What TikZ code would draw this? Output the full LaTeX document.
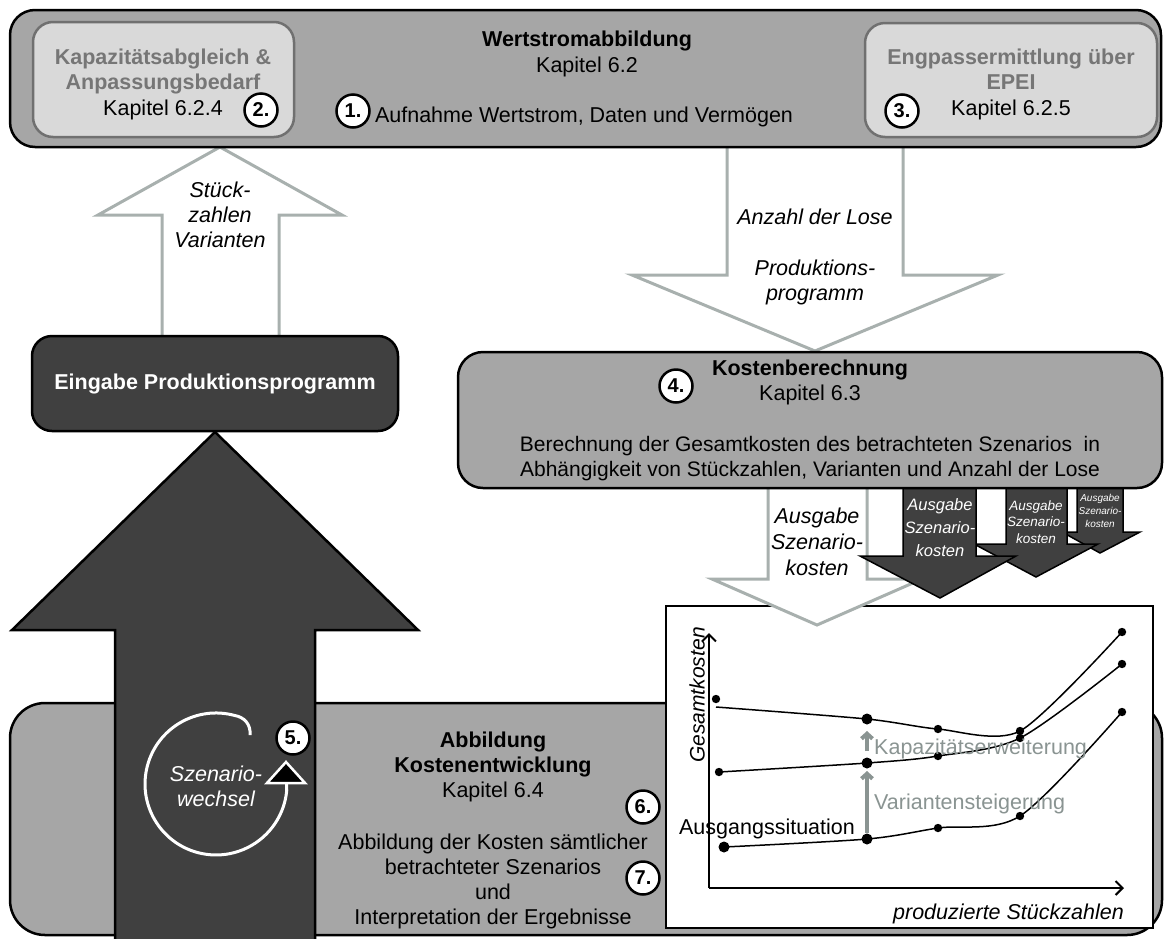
\documentclass[tikz,border=0pt]{standalone}
\usepackage{fontspec}
\setmainfont{Liberation Sans}
\usetikzlibrary{arrows.meta}
\definecolor{boxgray}{RGB}{166,166,166}
\definecolor{lightbox}{RGB}{217,217,217}
\definecolor{innerborder}{RGB}{112,112,112}
\definecolor{graytext}{RGB}{118,118,118}
\definecolor{darkfill}{RGB}{64,64,64}
\definecolor{hollowline}{RGB}{168,176,174}
\definecolor{chartgray}{RGB}{138,148,146}
\tikzset{
  txt/.style={font=\fontsize{21.5}{25.5}\selectfont, align=center, inner sep=0pt},
  bigbox/.style={draw=black, line width=2.5pt, fill=boxgray, rounded corners=25pt, inner sep=0pt},
  innerbox/.style={draw=innerborder, line width=2.5pt, fill=lightbox, rounded corners=20pt, inner sep=0pt},
  darkbox/.style={draw=black, line width=2.5pt, fill=darkfill, rounded corners=20pt, inner sep=0pt},
  numc/.style={circle, draw=black, line width=2.5pt, fill=white, inner sep=0pt, minimum size=33pt, font=\fontsize{20}{22}\selectfont\bfseries},
  hollow/.style={draw=hollowline, line width=3pt, fill=white, line join=miter},
  darkarrow/.style={draw=black, line width=1.5pt, fill=darkfill, line join=miter},
  dot/.style={fill=black},
  axis/.style={line width=2pt, -{Straight Barb[length=7pt,width=14pt]}},
  grayarrow/.style={draw=chartgray, line width=4pt, -{Straight Barb[length=5pt,width=11pt]}},
  curve/.style={line width=1.5pt}
}
\begin{document}
\begin{tikzpicture}[x=1pt,y=-1pt]
\useasboundingbox (0,0) rectangle (1165,938);

% hollow arrows from the top box
\draw[hollow] (727,147) -- (727,275) -- (632,275) -- (815,351) -- (998,275) -- (903,275) -- (903,147);
\draw[hollow] (162,335) -- (162,215) -- (98,215) -- (220,147) -- (342,215) -- (279,215) -- (279,335);
\node[txt, font=\fontsize{21.5}{25}\selectfont\itshape] (stk) at (220,215) {Stück-\\zahlen\\Varianten};
\node[txt, font=\fontsize{21.5}{25}\selectfont\itshape] (lose) at (815,217) {Anzahl der Lose};
\node[txt, font=\fontsize{21.5}{25}\selectfont\itshape] (pp) at (815,282) {Produktions-\\programm};

% top box
\node[bigbox, minimum width=1151pt, minimum height=137pt] (wsa) at (585.5,78.5) {};
\node[innerbox, minimum width=261pt, minimum height=115pt] (kap) at (163.5,79.5) {};
\node[innerbox, minimum width=292pt, minimum height=114pt] (eng) at (1011,80) {};
\node[txt] (kapt) at (163,84) {\textcolor{graytext}{\bfseries Kapazitätsabgleich \&}\\\textcolor{graytext}{\bfseries Anpassungsbedarf}\\Kapitel 6.2.4};
\node[txt] (engt) at (1011,84) {\textcolor{graytext}{\bfseries Engpassermittlung über}\\\textcolor{graytext}{\bfseries EPEI}\\Kapitel 6.2.5};
\node[txt, font=\fontsize{21.5}{26}\selectfont] (wsat) at (587,54) {{\bfseries Wertstromabbildung}\\Kapitel 6.2};
\node[txt] (aufn) at (584,117) {Aufnahme Wertstrom, Daten und Vermögen};
\node[numc] (n1) at (353,111) {1.};
\node[numc] (n2) at (261,110) {2.};
\node[numc] (n3) at (902,111) {3.};

% bottom box and big arrow
\node[bigbox, rounded corners=35pt, minimum width=1152pt, minimum height=232pt] (ake) at (586,819) {};
\draw[darkarrow, line width=2.5pt] (115,945) -- (115,630) -- (12,630) -- (215,432) -- (418,630) -- (315,630) -- (315,945);
\node[darkbox, minimum width=366pt, minimum height=95pt, text=white, font=\fontsize{21.5}{25}\selectfont\bfseries] (eing) at (215,383.5) {Eingabe Produktionsprogramm};

% scenario change loop
\draw[white, line width=3pt] (250,735) .. controls (251,724) and (244,717) .. (234.4,715.4)
  arc[start angle=-75, end angle=-355, radius=71] -- (286.5,783);
\draw[white, line width=2.5pt, fill=black, line join=miter] (267,783) -- (305,783) -- (286,762) -- cycle;
\node[txt, text=white, font=\fontsize{21.5}{25}\selectfont\itshape] (szw) at (216,786) {Szenario-\\wechsel};
\node[numc] (n5) at (293,738) {5.};

% bottom box texts
\node[txt, font=\fontsize{21.5}{25}\selectfont] (aket) at (493,767) {{\bfseries Abbildung}\\{\bfseries Kostenentwicklung}\\Kapitel 6.4};
\node[txt, font=\fontsize{21.5}{25}\selectfont] (akeb) at (493,881.5) {Abbildung der Kosten sämtlicher\\betrachteter Szenarios\\und\\Interpretation der Ergebnisse};
\node[numc] (n6) at (643,807) {6.};
\node[numc] (n7) at (643,878) {7.};

% chart
\node[draw, line width=2.5pt, fill=white, minimum width=487pt, minimum height=322pt, inner sep=0pt] (chart) at (909.5,767) {};
\coordinate (o) at (709,888);
\coordinate (ytop) at (709,633);
\coordinate (xend) at (1124,888);
\draw[axis] (o) -- (ytop);
\draw[axis] (o) -- (xend);
\node[txt, font=\fontsize{21}{25}\selectfont\itshape, rotate=90] (gk) at (697,695) {Gesamtkosten};
\node[txt, font=\fontsize{21.5}{25}\selectfont\itshape, anchor=east] (ps) at (1124,914) {produzierte Stückzahlen};

\draw[curve] plot[smooth, tension=0.45] coordinates {(716,707) (867,719) (938,729) (1020,731) (1122,632)};
\draw[curve] plot[smooth, tension=0.5] coordinates {(719,772) (867,763) (938,756) (1020,738) (1122,664)};
\draw[curve] plot[smooth, tension=0.5] coordinates {(724,847) (867,839) (938,828) (1020,816) (1122,712)};
\foreach \p in {(716,699),(938,729),(1020,731),(1122,632),(719,772),(938,756),(1020,738),(1122,664),(938,828),(1020,816),(1122,712)}
  \fill[dot] \p circle[radius=4.2];
\foreach \p in {(867,719),(867,763),(724,847),(867,839)}
  \fill[dot] \p circle[radius=5.5];
\draw[grayarrow] (867,833) -- (867,771);
\draw[grayarrow] (867,751) -- (867,731);
\node[txt, text=chartgray, anchor=west] (kape) at (874,749) {Kapazitätserweiterung};
\node[txt, text=chartgray, anchor=west] (vars) at (874,804) {Variantensteigerung};
\node[txt] (ausg) at (767,829) {Ausgangssituation};

% output arrows
\draw[hollow] (768,488) -- (768,579) -- (712,579) -- (817,625) -- (922,579) -- (867,579) -- (867,488);
\node[txt, font=\fontsize{21.5}{26}\selectfont\itshape] (out0) at (817,542) {Ausgabe\\Szenario-\\kosten};
\draw[darkarrow] (1077,488) -- (1077,532) -- (1062,532) -- (1100,553) -- (1140,532) -- (1123,532) -- (1123,488);
\draw[darkarrow] (1006,488) -- (1006,544) -- (974,544) -- (1036,577) -- (1098,544) -- (1067,544) -- (1067,488);
\draw[darkarrow] (903,488) -- (903,556) -- (860,556) -- (940,598) -- (1016,556) -- (976,556) -- (976,488);
\node[txt, text=white, font=\fontsize{16.5}{23}\selectfont\itshape] (out1) at (940,527.5) {Ausgabe\\Szenario-\\kosten};
\node[txt, text=white, font=\fontsize{13.5}{16.5}\selectfont\itshape] (out2) at (1036,522) {Ausgabe\\Szenario-\\kosten};
\node[txt, text=white, font=\fontsize{10}{13}\selectfont\itshape] (out3) at (1100,511) {Ausgabe\\Szenario-\\kosten};

% cost calculation box
\node[bigbox, minimum width=704pt, minimum height=136pt] (kb) at (810,420) {};
\node[txt, font=\fontsize{21.5}{25}\selectfont] (kbt) at (810,382.5) {{\bfseries Kostenberechnung}\\Kapitel 6.3};
\node[txt, font=\fontsize{21}{25}\selectfont] (kbb) at (810,459) {Berechnung der Gesamtkosten des betrachteten Szenarios\ \ in\\Abhängigkeit von Stückzahlen, Varianten und Anzahl der Lose};
\node[numc] (n4) at (676,386) {4.};
\end{tikzpicture}
\end{document}
